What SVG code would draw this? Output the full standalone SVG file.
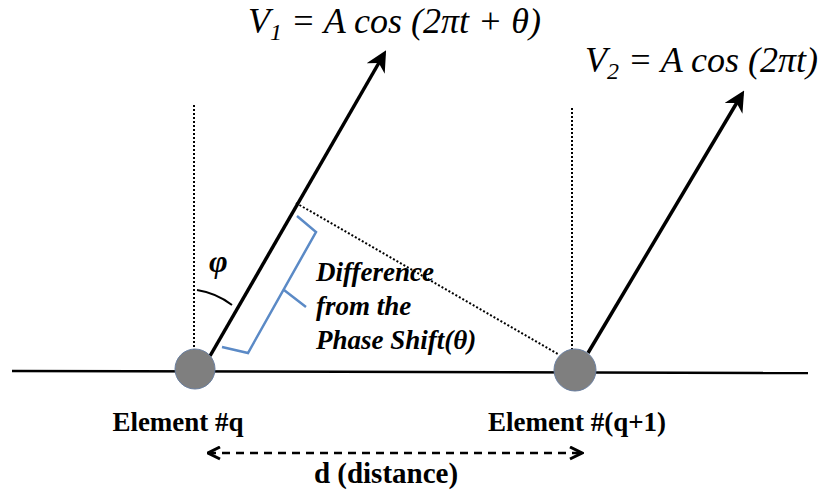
<svg xmlns="http://www.w3.org/2000/svg" width="827" height="496" viewBox="0 0 827 496">
<defs>
<marker id="ah" viewBox="0 0 10 10" refX="8" refY="5" markerWidth="6" markerHeight="6" orient="auto"><path d="M0,0 L10,5 L0,10 L3,5 Z" fill="#000"/></marker>
<marker id="chev" viewBox="0 0 10 10" refX="9" refY="5" markerWidth="6" markerHeight="6" orient="auto-start-reverse"><path d="M1,1 L9,5 L1,9" fill="none" stroke="#000" stroke-width="2"/></marker>
</defs>
<style>
.eq{font-family:"Liberation Serif","Times New Roman",serif;font-style:italic;font-size:36px;fill:#000}
.lbl{font-family:"Liberation Serif","Times New Roman",serif;font-weight:bold;font-size:27px;fill:#000}
.it{font-family:"Liberation Serif","Times New Roman",serif;font-weight:bold;font-style:italic;font-size:27px;fill:#000}
.dot{stroke:#000;stroke-width:2;stroke-dasharray:2 2;fill:none}
.vec{stroke:#000;stroke-width:3.5;fill:none}
.node{fill:#7f7f7f;stroke:#6a7fa0;stroke-width:1}
.sub{font-size:24px}
</style>
<g id="baseline"><line x1="12" y1="371" x2="808" y2="373" stroke="#000" stroke-width="2.5"/></g>
<g id="connectors">
<line class="dot" x1="194" y1="105" x2="194" y2="352"/>
<line class="dot" x1="572" y1="108" x2="572" y2="352"/>
<line class="dot" x1="296" y1="203" x2="558" y2="354"/>
<line class="vec" x1="210" y1="356" x2="384" y2="54" marker-end="url(#ah)"/>
<line class="vec" x1="588" y1="353" x2="742" y2="94" marker-end="url(#ah)"/>
<path d="M197,290 A77,77 0 0 1 232,305" fill="none" stroke="#000" stroke-width="2"/>
<path d="M297,216 L316,232 L248,353 L222,347 M284,290 L306,307" fill="none" stroke="#5b8ac6" stroke-width="2.5"/>
<line x1="208" y1="453" x2="582" y2="453" stroke="#000" stroke-width="2.5" stroke-dasharray="8 6" marker-start="url(#chev)" marker-end="url(#chev)"/>
</g>
<g id="element-q"><circle class="node" cx="195" cy="369" r="20"/><text class="lbl" x="178" y="431" text-anchor="middle">Element #q</text></g>
<g id="element-q1"><circle class="node" cx="575" cy="370" r="21"/><text class="lbl" x="577" y="431" text-anchor="middle">Element #(q+1)</text></g>
<g id="v1"><text class="eq" x="248" y="33">V<tspan class="sub" dy="7">1</tspan><tspan dy="-7"> = A cos (2πt + θ)</tspan></text></g>
<g id="v2"><text class="eq" x="585" y="72">V<tspan class="sub" dy="7">2</tspan><tspan dy="-7"> = A cos (2πt)</tspan></text></g>
<text class="it" x="209" y="272" style="font-size:32px">φ</text>
<g id="diff"><text class="it" x="316" y="281">Difference</text><text class="it" x="316" y="315">from the</text><text class="it" x="316" y="349">Phase Shift(θ)</text></g>
<text class="lbl" x="386" y="483" text-anchor="middle" style="font-size:29px">d (distance)</text>
</svg>
